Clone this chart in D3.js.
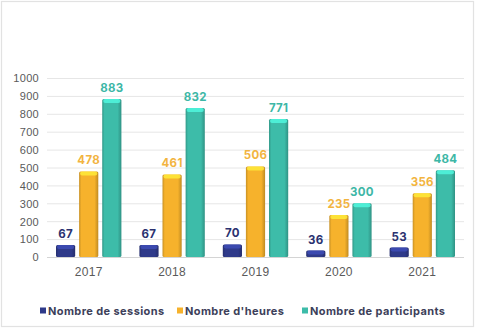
<!DOCTYPE html>
<html>
<head>
<meta charset="utf-8">
<script src="https://cdn.jsdelivr.net/npm/d3@7"></script>
<style>
  body { margin: 0; background: #fff; }
  svg { display: block; font-family: "Inter", "DejaVu Sans", sans-serif; }
  .tick text { fill: #5a5a5a; font-size: 11px; letter-spacing: 0.3px; }
</style>
</head>
<body>
<div class="chart"></div>
<script>
// data
var years = ["2017", "2018", "2019", "2020", "2021"];
var sessions = [67, 67, 70, 36, 53];
var heures = [478, 461, 506, 235, 356];
var participants = [883, 832, 771, 300, 484];
var seriesNames = ["Nombre de sessions", "Nombre d'heures", "Nombre de participants"];
var yTicks = [0, 100, 200, 300, 400, 500, 600, 700, 800, 900, 1000];

var colors = ["#2f3a8a", "#f6b22c", "#3dbca9"];
var labelColors = ["#2b3270", "#f2b43f", "#3db7a6"];

var W = 480, H = 329;
var margin = {top: 78, right: 16, bottom: 72, left: 47};
var width = W - margin.left - margin.right,
    height = H - margin.top - margin.bottom;

var svg = d3.select(".chart").append("svg")
    .attr("width", W)
    .attr("height", H);

// frame
svg.append("rect")
    .attr("x", 1.5).attr("y", 1.5)
    .attr("width", 472).attr("height", 325)
    .attr("fill", "#fff")
    .attr("stroke", "#e2e2e2")
    .attr("stroke-width", 1.2);

var defs = svg.append("defs");
colors.forEach(function(c, i) {
  var g = defs.append("linearGradient").attr("id", "grad" + i)
      .attr("x1", "0").attr("x2", "1").attr("y1", "0").attr("y2", "0");
  g.append("stop").attr("offset", "0%").attr("stop-color", d3.color(c).darker(0.6));
  g.append("stop").attr("offset", "12%").attr("stop-color", c);
  g.append("stop").attr("offset", "80%").attr("stop-color", c);
  g.append("stop").attr("offset", "100%").attr("stop-color", d3.color(c).darker(0.7));
});

var g = svg.append("g")
    .attr("transform", "translate(" + margin.left + "," + margin.top + ")");

var x = d3.scaleBand().domain(years).range([0, width]).paddingInner(0).paddingOuter(0);
var x1 = d3.scaleBand().domain([0, 1, 2]).range([9, x.bandwidth() - 9]).paddingInner(0.17);
var y = d3.scaleLinear().domain([0, 1000]).range([height, 0]);

// grid
g.selectAll(".grid")
    .data(yTicks)
  .enter().append("line")
    .attr("x1", 0).attr("x2", width)
    .attr("y1", function(d) { return y(d) + 0.5; })
    .attr("y2", function(d) { return y(d) + 0.5; })
    .attr("stroke", function(d) { return d === 0 ? "#d4d4d4" : "#e6e6e6"; })
    .attr("stroke-width", 1);

// y axis
var yAxis = d3.axisLeft(y).tickValues(yTicks).tickFormat(d3.format("d")).tickSize(0).tickPadding(8);
g.append("g").call(yAxis).call(function(s) { s.select(".domain").remove(); })
  .selectAll("text").attr("dy", "0.35em");

// x axis
var xAxis = d3.axisBottom(x).tickSize(0).tickPadding(10);
g.append("g").attr("transform", "translate(0," + height + ")")
    .call(xAxis).call(function(s) { s.select(".domain").remove(); })
  .selectAll("text").style("font-size", "12px");

var allSeries = [sessions, heures, participants];
var rows = [];
years.forEach(function(yr, i) {
  allSeries.forEach(function(s, k) {
    rows.push({year: yr, k: k, value: s[i]});
  });
});

var bars = g.selectAll(".bar").data(rows).enter().append("g");

bars.append("rect")
    .attr("x", function(d) { return x(d.year) + x1(d.k); })
    .attr("y", function(d) { return y(d.value); })
    .attr("width", x1.bandwidth())
    .attr("height", function(d) { return height - y(d.value); })
    .attr("rx", 1.5)
    .attr("fill", function(d) { return "url(#grad" + d.k + ")"; });

// top highlight cap
bars.append("rect")
    .attr("x", function(d) { return x(d.year) + x1(d.k) + 1; })
    .attr("y", function(d) { return y(d.value); })
    .attr("width", x1.bandwidth() - 2)
    .attr("height", 4)
    .attr("rx", 2)
    .attr("fill", function(d) { return d3.color(colors[d.k]).brighter(0.8); })
    .attr("opacity", 0.8);

bars.append("text")
    .attr("x", function(d) { return x(d.year) + x1(d.k) + x1.bandwidth() / 2; })
    .attr("y", function(d) { return y(d.value) - 7; })
    .attr("text-anchor", "middle")
    .style("font-size", "11.5px")
    .style("font-weight", "bold")
    .style("letter-spacing", "0.3px")
    .attr("fill", function(d) { return labelColors[d.k]; })
    .text(function(d) { return d.value; });

// legend
var legendX = [40, 177, 302];
var legend = svg.selectAll(".legend").data(seriesNames).enter().append("g")
    .attr("transform", function(d, i) { return "translate(" + legendX[i] + ",311)"; });
legend.append("rect")
    .attr("x", 0).attr("y", -3.5).attr("width", 6).attr("height", 6)
    .attr("fill", function(d, i) { return colors[i]; });
legend.append("text")
    .attr("x", 8).attr("y", 0).attr("dy", "0.35em")
    .style("font-size", "11px")
    .style("font-weight", "bold")
    .style("letter-spacing", "0.4px")
    .attr("fill", "#3d3f5a")
    .text(function(d) { return d; });
</script>
</body>
</html>
